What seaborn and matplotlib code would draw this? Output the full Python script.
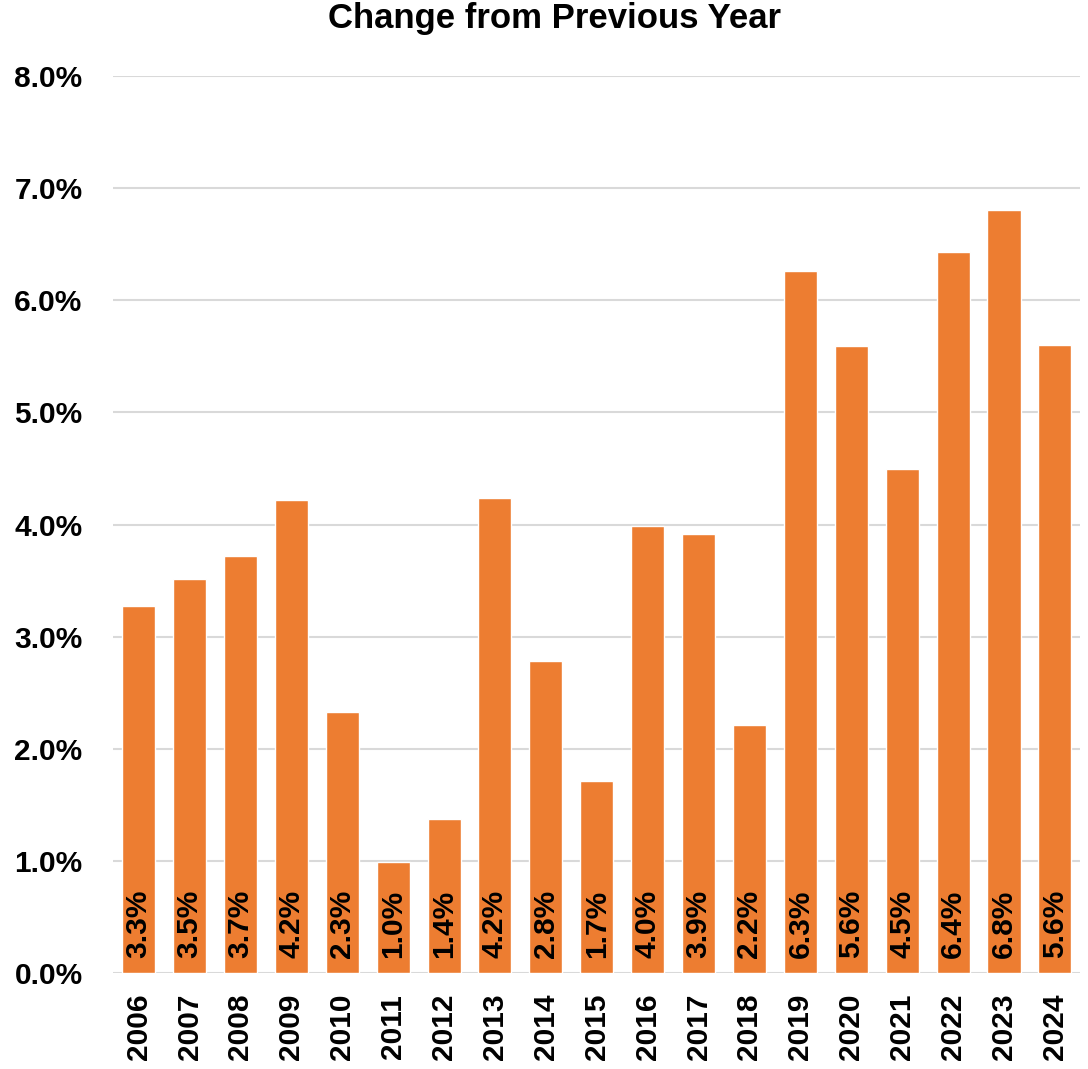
import numpy as np
import seaborn as sns
import matplotlib.pyplot as plt
import pandas as pd
from matplotlib.ticker import PercentFormatter

years = ['2006', '2007', '2008', '2009', '2010', '2011', '2012', '2013', '2014', '2015',
         '2016', '2017', '2018', '2019', '2020', '2021', '2022', '2023', '2024']
change = [3.27, 3.51, 3.72, 4.22, 2.33, 0.99, 1.37, 4.24, 2.78, 1.71,
          3.99, 3.92, 2.21, 6.26, 5.59, 4.50, 6.43, 6.81, 5.60]

df = pd.DataFrame({'year': years, 'change': change})

sns.set_style('white')
plt.rcParams['font.family'] = ['Liberation Sans', 'DejaVu Sans']
plt.rcParams['font.weight'] = 'bold'
plt.rcParams['text.color'] = 'black'
plt.rcParams['xtick.color'] = 'black'
plt.rcParams['ytick.color'] = 'black'

fig = plt.figure(figsize=(10.88, 10.69), dpi=100)
ax = fig.add_axes([0.104, 0.0898, 0.889, 0.839])

sns.barplot(data=df, x='year', y='change', color='#ED7D31', saturation=1,
            width=0.65, ax=ax, zorder=3)

ax.set_ylim(0, 8)
ax.set_yticks(np.arange(0, 9, 1))
ax.yaxis.set_major_formatter(PercentFormatter(decimals=1))
ax.grid(axis='y', color='#d9d9d9', linewidth=1.5, zorder=0)
ax.set_axisbelow(True)
for s in ax.spines.values():
    s.set_visible(False)

ax.tick_params(axis='y', labelsize=21.5, length=0, pad=22)
ax.tick_params(axis='x', labelsize=21.5, length=0, pad=15, labelrotation=90)
for lab in ax.get_xticklabels() + ax.get_yticklabels():
    lab.set_fontweight('bold')
ax.set_xlabel('')
ax.set_ylabel('')

# labels inside bars at the base
for i, v in enumerate(change):
    ax.text(i, 0.13, f'{v:.1f}%', rotation=90, ha='center', va='bottom',
            fontsize=21.5, fontweight='bold', color='black', zorder=4)

fig.text(0.51, 0.983, 'Change from Previous Year', ha='center', va='center',
         fontsize=25, fontweight='bold')

fig.savefig('out.png', dpi=100)
